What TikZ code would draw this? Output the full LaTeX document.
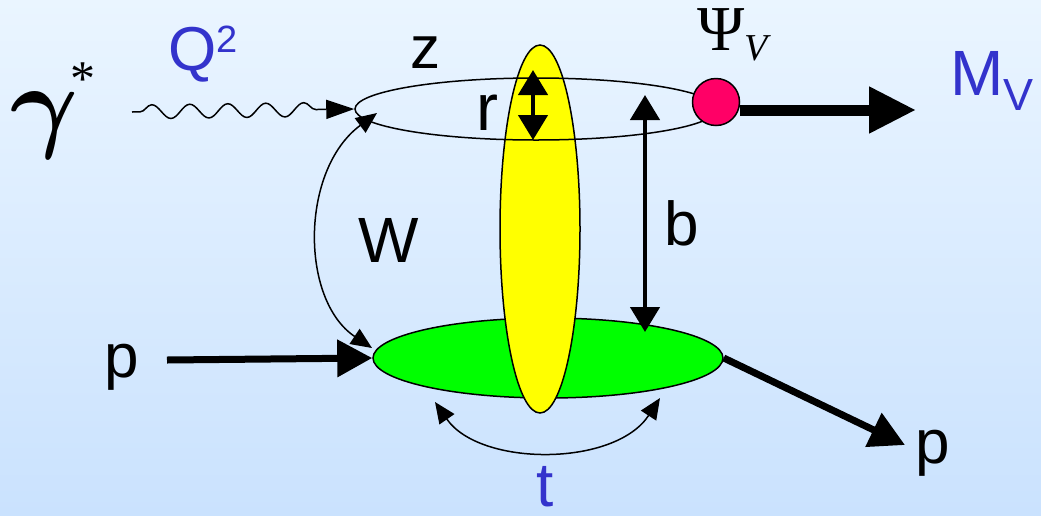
\RequirePackage{fix-cm}
\documentclass[tikz,border=0pt]{standalone}
\usepackage{fontspec}
\setmainfont{Liberation Sans}
\newfontfamily\grk{Liberation Serif}
\usetikzlibrary{arrows.meta,shapes.geometric,decorations.pathmorphing}

\definecolor{bgtop}{RGB}{234,245,255}
\definecolor{bgbot}{RGB}{202,226,254}
\definecolor{labelblue}{RGB}{51,51,204}
\definecolor{targetgreen}{RGB}{0,255,0}
\definecolor{overlapyellow}{RGB}{255,255,0}
\definecolor{psired}{RGB}{255,0,102}

\begin{document}
\begin{tikzpicture}[x=1pt,y=-1pt,
  lbl/.style={inner sep=0pt,anchor=base west,font=\fontsize{62}{62}\selectfont},
  bluelbl/.style={lbl,text=labelblue},
  blob/.style={ellipse,draw,line width=1.5pt,inner sep=0pt},
  thinarrow/.style={line width=1.5pt,{Triangle[length=21pt,width=18pt]}-{Triangle[length=21pt,width=18pt]}},
  sizearrow/.style={line width=4.5pt,{Triangle[length=25pt,width=29pt]}-{Triangle[length=25pt,width=29pt]}},
  heavyarrow/.style={line width=7pt,-{Triangle[length=35pt,width=36pt]}}]

% background
\shade[top color=bgtop,bottom color=bgbot] (0,0) rectangle (1041,515);
\useasboundingbox (0,0) rectangle (1041,515);

% target, overlap and dipole
\node[blob,fill=targetgreen,minimum width=350pt,minimum height=80pt] (tgt) at (548,358) {};
\node[blob,fill=overlapyellow,minimum width=80pt,minimum height=368pt] (ovl) at (540,229) {};
\node[blob,minimum width=362pt,minimum height=62pt] (ring) at (536,109) {};
\node[circle,draw,line width=1.5pt,fill=psired,inner sep=0pt,minimum size=47pt] (psi) at (716,102) {};

% free ends
\coordinate (gin) at (132,112);
\coordinate (mv) at (916,110);
\coordinate (pin) at (167,360);
\coordinate (pout) at (905,445);
\coordinate (rtop) at (533,70);
\coordinate (rbot) at (533,140);
\coordinate (btop) at (645,95);
\coordinate (bbot) at (645,332);
\coordinate (wtop) at (377,113);
\coordinate (wbot) at (372,348);
\coordinate (tl) at (435,402);
\coordinate (tr) at (660,398);

% connectors
\draw[decorate,decoration={snake,amplitude=7pt,segment length=38pt,pre length=8pt,post length=28pt},
  line width=1.5pt,-{Triangle[length=28pt,width=19pt]}] (gin) -- (ring.west);
\draw[heavyarrow] (pin) -- (tgt.west);
\draw[heavyarrow] (tgt.east) -- (pout);
\draw[line width=11pt,-{Triangle[length=47pt,width=44pt]}] (psi.east |- mv) -- (mv);
\draw[sizearrow] (rtop) -- (rbot);
\draw[sizearrow] (btop) -- (bbot);
\draw[thinarrow] (wtop) .. controls (300,170) and (300,300) .. (wbot);
\draw[thinarrow] (tl) .. controls (480,467) and (615,467) .. (tr);

% labels
\node[lbl,font=\fontsize{104}{104}\selectfont\boldmath] (gamma) at (10,138) {$\gamma$};
\node[lbl,font=\fontsize{50}{50}\grk] (star) at (70,95) {*};
\node[bluelbl] (qsq) at (168,70) {Q\raisebox{18pt}{\fontsize{38}{38}\selectfont 2}};
\node[lbl,font=\fontsize{60}{60}\selectfont] (zlbl) at (410,68) {z};
\node[lbl,font=\fontsize{66}{66}\selectfont] (rlbl) at (476,130) {r};
\node[lbl,font=\fontsize{64}{64}\selectfont] (wlbl) at (358,262) {W};
\node[lbl] (blbl) at (664,245) {b};
\node[lbl] (pinlbl) at (104,377) {p};
\node[lbl] (poutlbl) at (915,463) {p};
\node[bluelbl,font=\fontsize{62}{62}\selectfont] (tlbl) at (536,506) {t};
\node[lbl,font=\fontsize{64}{64}\grk] (psilbl) at (697,50) {Ψ\raisebox{-10pt}{\fontsize{38}{38}\selectfont\itshape V}};
\node[bluelbl,font=\fontsize{64}{64}\selectfont] (mvlbl) at (950,95) {M\raisebox{-15pt}{\fontsize{45}{45}\selectfont V}};
\end{tikzpicture}
\end{document}
